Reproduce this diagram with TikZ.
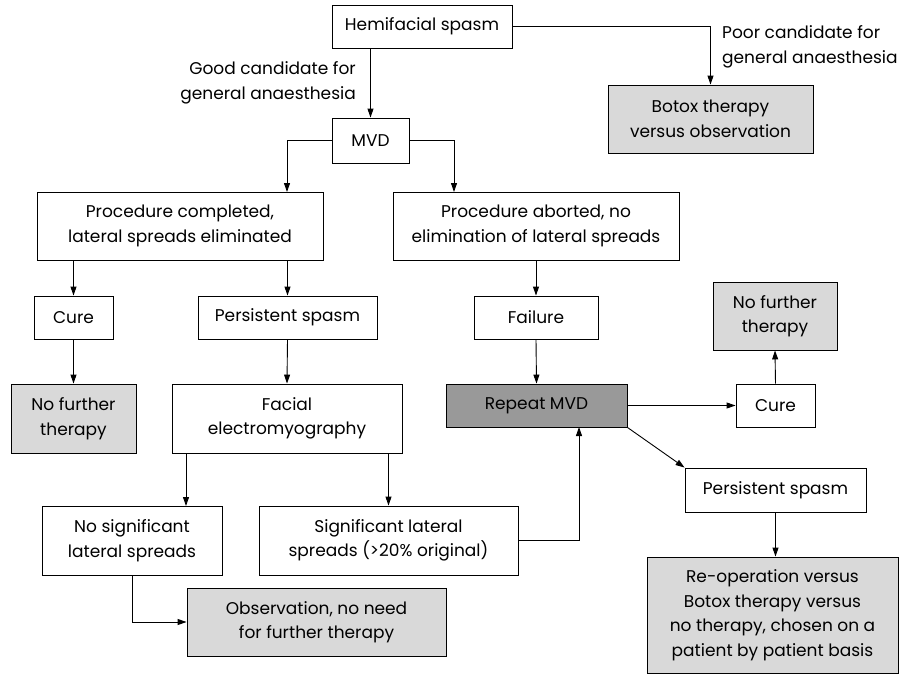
\documentclass[tikz,border=0pt]{standalone}
\usepackage{fontspec}
\setmainfont{Poppins}
\usetikzlibrary{arrows.meta}
\definecolor{lgray}{HTML}{D9D9D9}
\definecolor{dgray}{HTML}{999999}
\tikzset{
  box/.style={draw=black, line width=0.9pt, align=center, inner sep=0pt,
    font=\fontsize{17}{24.5}\selectfont},
  lbox/.style={box, fill=lgray},
  dbox/.style={box, fill=dgray},
  arr/.style={line width=0.9pt, -{Triangle[length=9pt,width=6pt]}},
  lbl/.style={font=\fontsize{17}{24.5}\selectfont, inner sep=0pt}
}
\begin{document}
\begin{tikzpicture}[x=1pt,y=-1pt]
\useasboundingbox (0,0) rectangle (900,675);
\node[box, minimum width=180pt, minimum height=43pt] (hfs) at (422,26.5) {Hemifacial spasm};
\node[box, minimum width=77pt, minimum height=45pt] (mvd) at (370.5,140.5) {MVD};
\node[lbox, minimum width=205pt, minimum height=68pt] (botox) at (710.5,119) {Botox therapy\\versus observation};
\node[box, minimum width=286pt, minimum height=68pt] (pcomp) at (180,226) {Procedure completed,\\lateral spreads eliminated};
\node[box, minimum width=286pt, minimum height=68pt] (pabort) at (536,226) {Procedure aborted, no\\elimination of lateral spreads};
\node[box, minimum width=79pt, minimum height=43pt] (cureA) at (73.5,317.5) {Cure};
\node[box, minimum width=179pt, minimum height=43pt] (persA) at (287.5,317.5) {Persistent spasm};
\node[box, minimum width=124pt, minimum height=43pt] (fail) at (536,317.5) {Failure};
\node[lbox, minimum width=124pt, minimum height=68pt] (nftB) at (775,316) {No further\\therapy};
\node[lbox, minimum width=125pt, minimum height=69pt] (nftA) at (73.5,418.5) {No further\\therapy};
\node[box, minimum width=230pt, minimum height=69pt] (fem) at (287,418.5) {Facial\\electromyography};
\node[dbox, minimum width=181pt, minimum height=43pt] (rep) at (536.5,405.5) {Repeat MVD};
\node[box, minimum width=79pt, minimum height=43pt] (cureB) at (775.5,405.5) {Cure};
\node[box, minimum width=181pt, minimum height=44pt] (persB) at (775.5,490) {Persistent spasm};
\node[box, minimum width=180pt, minimum height=69pt] (nosig) at (132,540.5) {No significant\\lateral spreads};
\node[box, minimum width=259pt, minimum height=69pt] (sig) at (388.5,540.5) {Significant lateral\\spreads (>20\% original)};
\node[lbox, minimum width=259pt, minimum height=68pt] (obs) at (316.5,622) {Observation, no need\\for further therapy};
\node[lbox, minimum width=251pt, minimum height=116pt] (reop) at (772.5,615) {Re-operation versus\\Botox therapy versus\\no therapy, chosen on a\\patient by patient basis};

\node[lbl, align=right, anchor=east] (good) at (356,83) {Good candidate for\\general anaesthesia};
\node[lbl, align=left, anchor=west] (poor) at (722,47) {Poor candidate for\\general anaesthesia};

\coordinate (pcin) at (287,192);
\coordinate (pain) at (454,192);
\coordinate (femL) at (186,453);
\coordinate (nosigin) at (186,506);
\coordinate (repin) at (579,427);

\draw[arr] (mvd.north |- hfs.south) -- (mvd.north);
\draw[arr] (hfs.east) -| (botox.north);
\draw[arr] (mvd.west) -| (pcin);
\draw[arr] (mvd.east) -| (pain);
\draw[arr] (cureA.north |- pcomp.south) -- (cureA.north);
\draw[arr] (persA.north |- pcomp.south) -- (persA.north);
\draw[arr] (pabort.south) -- (fail.north);
\draw[arr] (cureA.south) -- (nftA.north);
\draw[arr] (persA.south) -- (fem.north);
\draw[arr] (fail.south) -- (rep.north);
\draw[arr] (femL) -- (nosigin);
\draw[arr] (sig.north |- fem.south) -- (sig.north);
\draw[arr] (nosig.south) |- (obs.west);
\draw[arr] (sig.east) -| (repin);
\draw[arr] (rep.east) -- (cureB.west);
\draw[arr] (cureB.north) -- (nftB.south);
\draw[arr] (rep.south east) -- (persB.north west);
\draw[arr] (persB.south) -- (persB.south |- reop.north);
\end{tikzpicture}
\end{document}
